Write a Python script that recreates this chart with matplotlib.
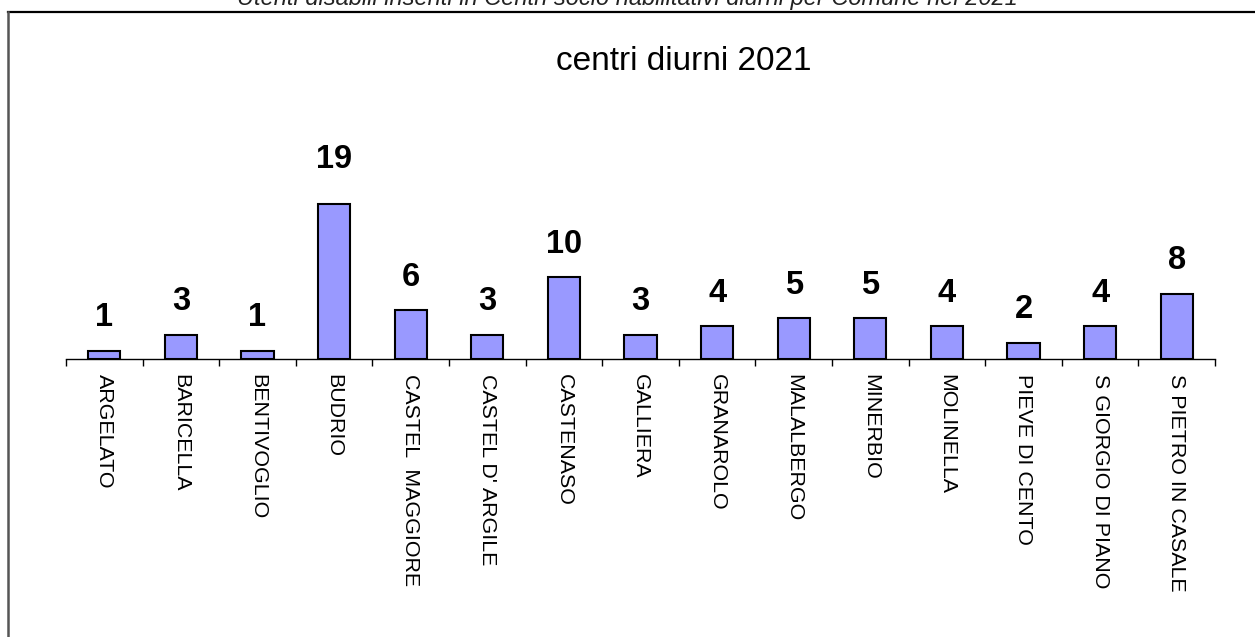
import numpy as np
import matplotlib.pyplot as plt
from matplotlib.lines import Line2D

comuni = ['ARGELATO', 'BARICELLA', 'BENTIVOGLIO', 'BUDRIO', 'CASTEL  MAGGIORE',
          "CASTEL D' ARGILE", 'CASTENASO', 'GALLIERA', 'GRANAROLO', 'MALALBERGO',
          'MINERBIO', 'MOLINELLA', 'PIEVE DI CENTO', 'S GIORGIO DI PIANO',
          'S PIETRO IN CASALE']
utenti = [1, 3, 1, 19, 6, 3, 10, 3, 4, 5, 5, 4, 2, 4, 8]

titolo = 'centri diurni 2021'
didascalia = 'Utenti disabili inseriti in Centri socio riabilitativi diurni per Comune nel 2021'

plt.rcParams['font.family'] = ['Liberation Sans', 'DejaVu Sans']

W, H = 1255, 637
fig = plt.figure(figsize=(W / 100, H / 100), dpi=100)

# cornice (bordo superiore e sinistro)
fig.add_artist(Line2D([8 / W, 1], [1 - 12 / H, 1 - 12 / H], color='black', lw=1.6))
fig.add_artist(Line2D([8 / W, 8 / W], [0, 1 - 12 / H], color='#555555', lw=1.8))

# didascalia tagliata in alto
fig.text(0.5, 1 - 5 / H, didascalia, ha='center', va='baseline',
         fontsize=17, style='italic', color='#222222')

fig.text(684 / W, 1 - 62 / H, titolo, ha='center', va='center', fontsize=24)

ax = fig.add_axes([66 / W, (H - 359) / H, 1149 / W, 204 / H])
x = np.arange(len(comuni))
ax.bar(x, utenti, width=0.42, color='#9999FF', edgecolor='black', linewidth=1.5)

ax.set_xlim(-0.5, len(comuni) - 0.5)
ax.set_ylim(0, 25)
for s in ['top', 'right', 'left']:
    ax.spines[s].set_visible(False)
ax.spines['bottom'].set_linewidth(1.0)
ax.set_yticks([])

ax.set_xticks(np.arange(len(comuni) + 1) - 0.5)
ax.set_xticklabels([])
ax.tick_params(axis='x', which='major', length=5, width=1, direction='out')
ax.set_xticks(x, minor=True)
ax.set_xticklabels(comuni, minor=True, rotation=270, fontsize=15.4,
                   ha='center', va='top')
ax.tick_params(axis='x', which='minor', length=0, pad=11)

vmax = max(utenti)
for xi, v in zip(x, utenti):
    off = 21 if v == vmax else 12.5
    ax.annotate(str(v), (xi, v), xytext=(0, off), textcoords='offset points',
                ha='center', va='bottom', fontsize=23.5, fontweight='bold')

fig.savefig('out.png', dpi=100)
